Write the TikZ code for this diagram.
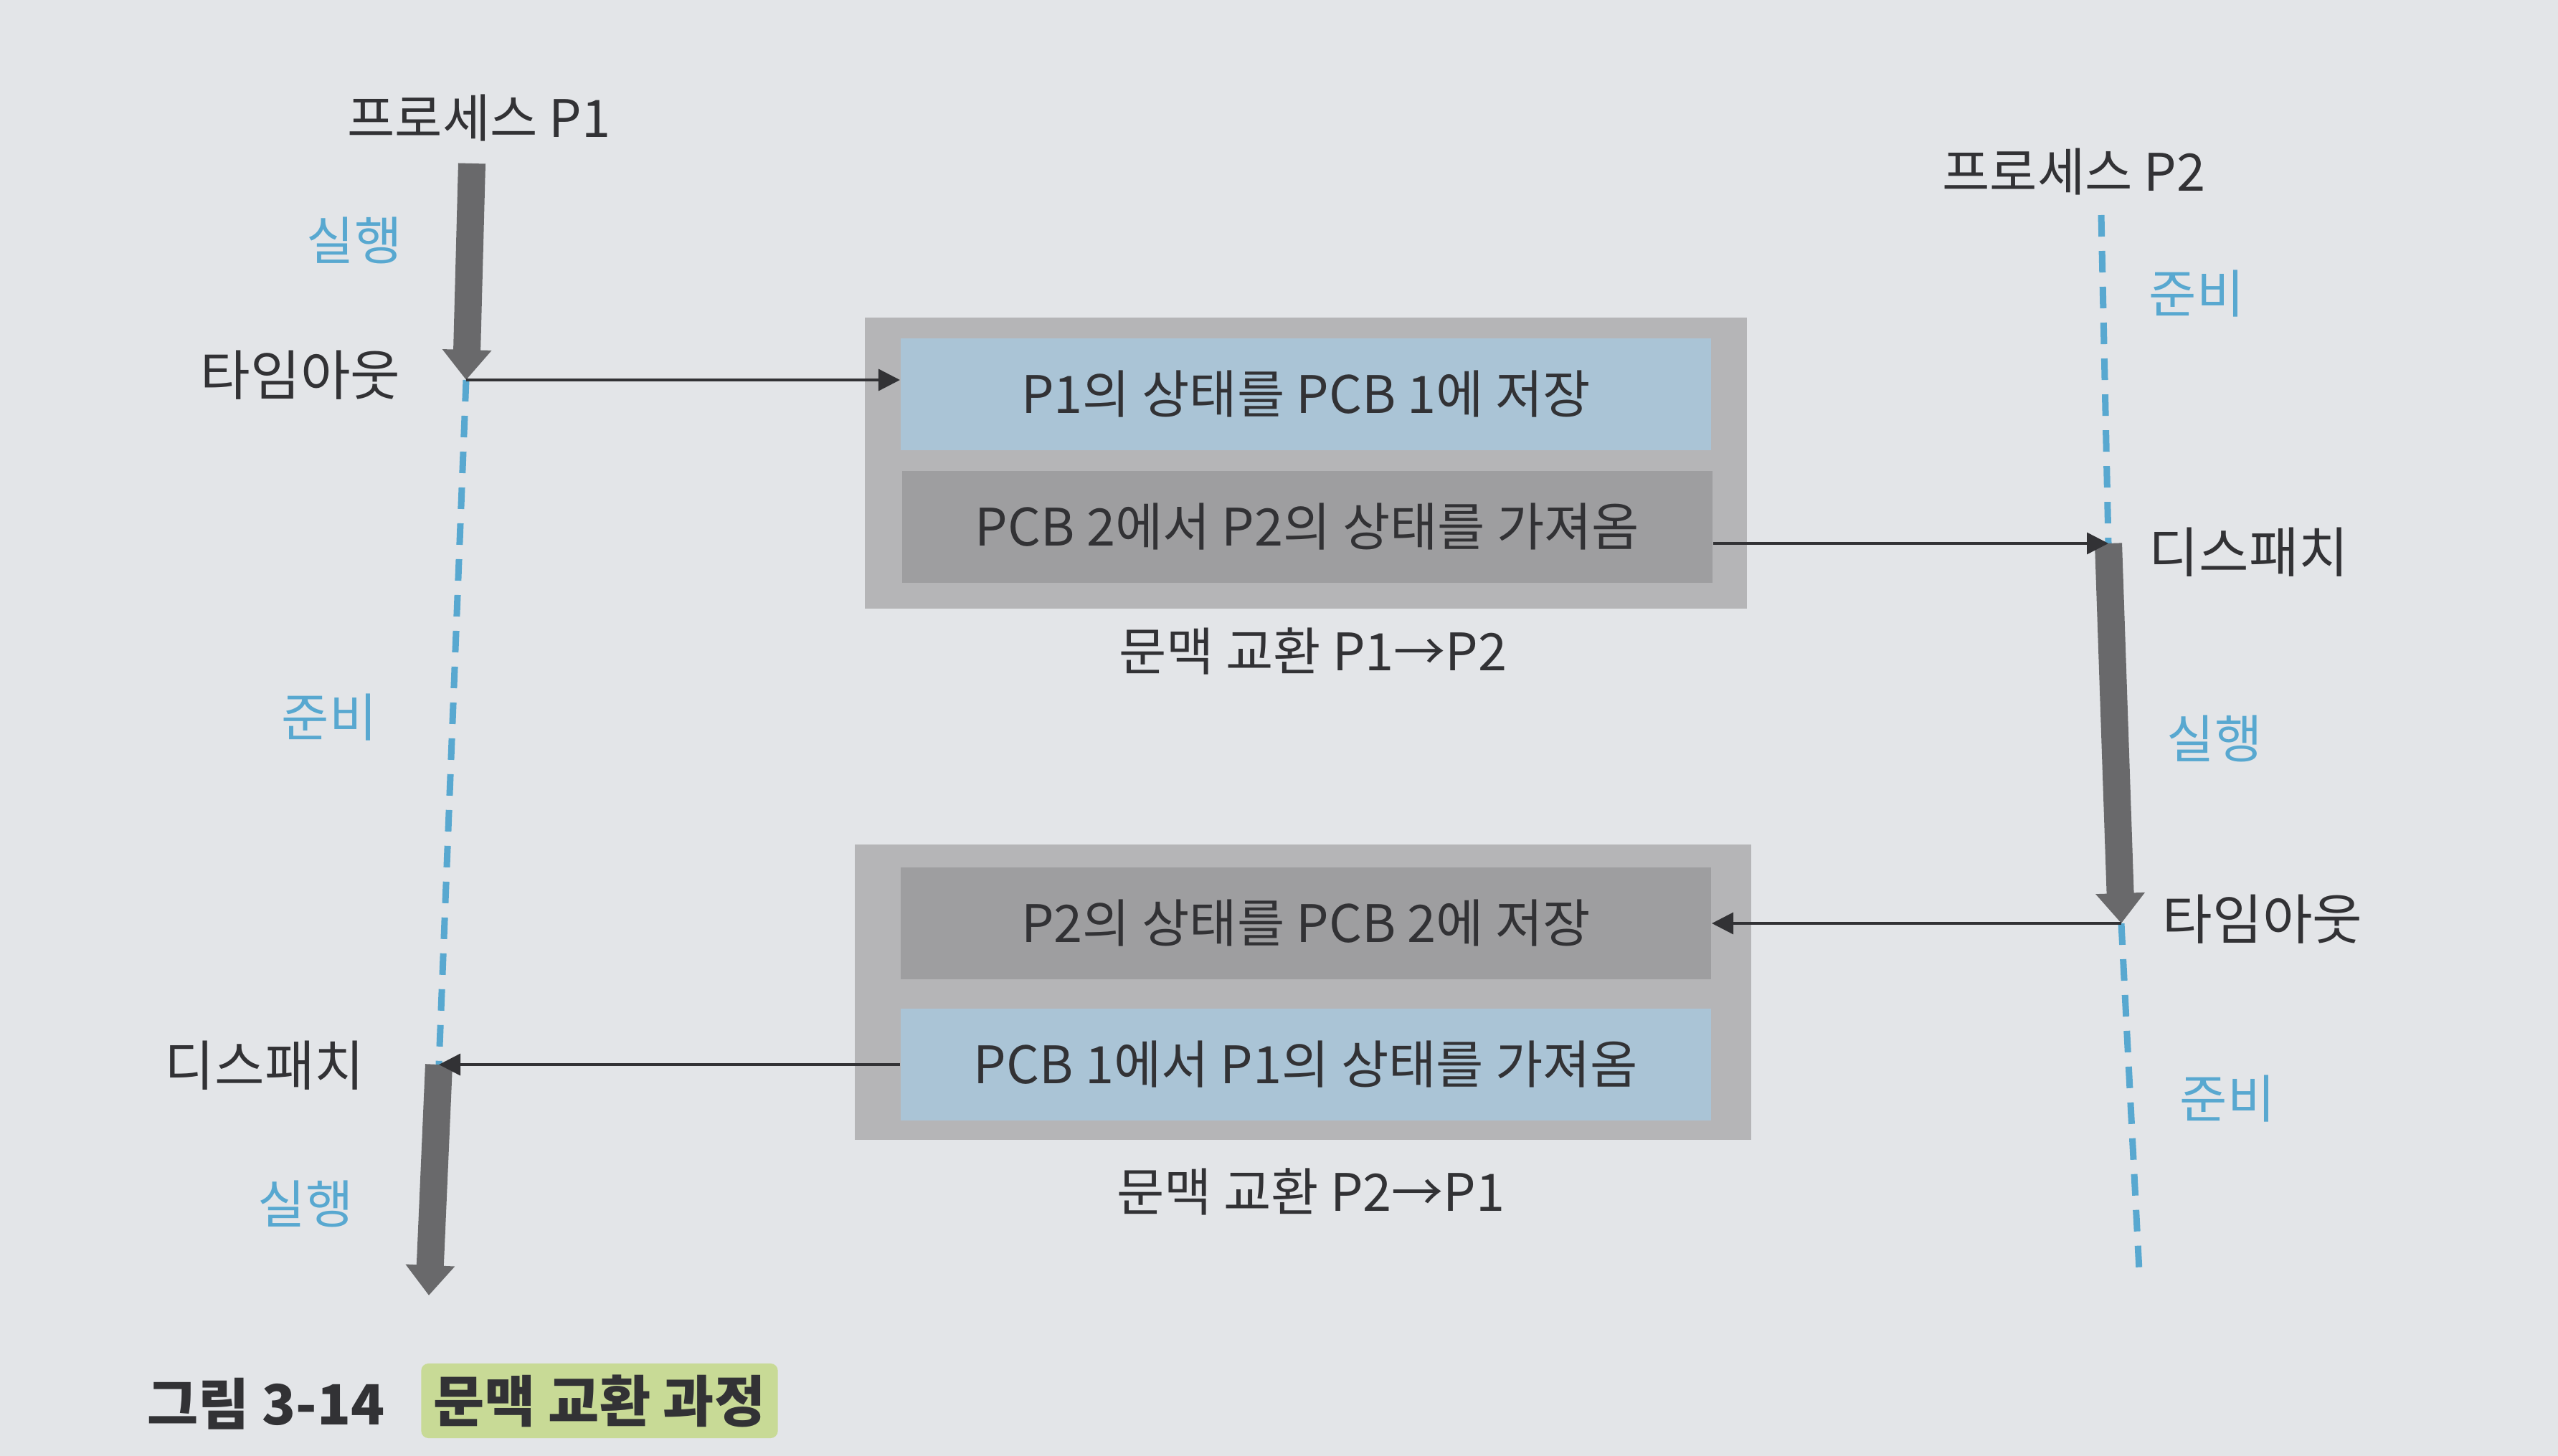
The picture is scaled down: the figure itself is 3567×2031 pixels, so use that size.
\documentclass[tikz,border=0pt]{standalone}
\usepackage{fontspec}
\setmainfont{Noto Sans CJK KR}
\usepackage{xcolor}
\usetikzlibrary{arrows.meta}

\definecolor{paper}{RGB}{227,229,232}
\definecolor{ink}{RGB}{50,50,53}
\definecolor{lblue}{RGB}{88,168,208}
\definecolor{boxgray}{RGB}{181,181,183}
\definecolor{boxdark}{RGB}{158,158,160}
\definecolor{boxblue}{RGB}{170,196,214}
\definecolor{bargray}{RGB}{105,105,107}
\definecolor{marker}{RGB}{200,218,150}

\tikzset{
  lbl/.style={font=\fontsize{20.5}{24}\selectfont, text=ink, inner sep=0pt},
  ev/.style={lbl, font=\fontsize{21.5}{25}\selectfont},
  st/.style={lbl, text=lblue},
  inbox/.style={lbl, minimum width=11.3cm, minimum height=1.55cm},
  ctx/.style={fill=boxgray, minimum width=12.3cm, minimum height=4.05cm},
  run/.style={draw=bargray, line width=0.38cm, -{Triangle[width=0.66cm,length=0.42cm]}},
  ready/.style={draw=lblue, line width=0.09cm, dash pattern=on 0.3cm off 0.2cm},
  sw/.style={draw=ink, line width=0.035cm, -{Triangle[width=0.3cm,length=0.3cm]}}
}

\begin{document}
\begin{tikzpicture}[x=0.01cm, y=-0.01cm]

\fill[paper] (0,0) rectangle (3567,2031);

\node[ctx] (c1) at (1821,646) {};
\node[inbox, fill=boxblue] (s1) at (1821,550) {P1의 상태를 PCB 1에 저장};
\node[inbox, fill=boxdark] (l1) at (1823,735) {PCB 2에서 P2의 상태를 가져옴};
\node[lbl] (n1) at (1831,908) {문맥 교환 P1→P2};

\node[ctx, minimum width=12.5cm, minimum height=4.12cm] (c2) at (1817,1384) {};
\node[inbox, fill=boxdark] (s2) at (1821,1288) {P2의 상태를 PCB 2에 저장};
\node[inbox, fill=boxblue] (l2) at (1821,1485) {PCB 1에서 P1의 상태를 가져옴};
\node[lbl] (n2) at (1828,1662) {문맥 교환 P2→P1};

\coordinate (a1) at (658,228);
\coordinate (a2) at (650,530);
\coordinate (a3) at (612,1485);
\coordinate (a4) at (598,1807);
\coordinate (b1) at (2930,300);
\coordinate (b2) at (2940,758);
\coordinate (b3) at (2958,1288);
\coordinate (b4) at (2983,1773);

\draw[ready] (a2) -- (a3);
\draw[ready] (b1) -- (b2);
\draw[ready] (b3) -- (b4);
\draw[run] (a1) -- (a2);
\draw[run] (a3) -- (a4);
\draw[run] (b2) -- (b3);

\draw[sw] (a2) -- (a2 -| s1.west);
\draw[sw] (b2 -| l1.east) -- (b2);
\draw[sw] (b3) -- (b3 -| s2.east);
\draw[sw] (l2.west) -- (l2.west -| a3);

\node[lbl] (h1) at (668,165) {프로세스 P1};
\node[st] (r1) at (494,335) {실행};
\node[ev] (t1) at (419,523) {타임아웃};
\node[st] (q1) at (459,1001) {준비};
\node[ev] (d1) at (369,1486) {디스패치};
\node[st] (r2) at (426,1679) {실행};

\node[lbl] (h2) at (2892,240) {프로세스 P2};
\node[st] (q2) at (3063,410) {준비};
\node[ev] (d2) at (3136,770) {디스패치};
\node[st] (r3) at (3088,1030) {실행};
\node[ev] (t2) at (3155,1282) {타임아웃};
\node[st] (q3) at (3106,1533) {준비};

\node[lbl, font=\fontsize{22}{26}\selectfont\bfseries] (f1) at (371,1958) {그림 3-14};
\node[lbl, font=\fontsize{22}{26}\selectfont\bfseries, fill=marker, minimum width=4.97cm, minimum height=1.04cm, rounded corners=0.1cm] (f2) at (836,1954) {문맥 교환 과정};

\end{tikzpicture}
\end{document}
